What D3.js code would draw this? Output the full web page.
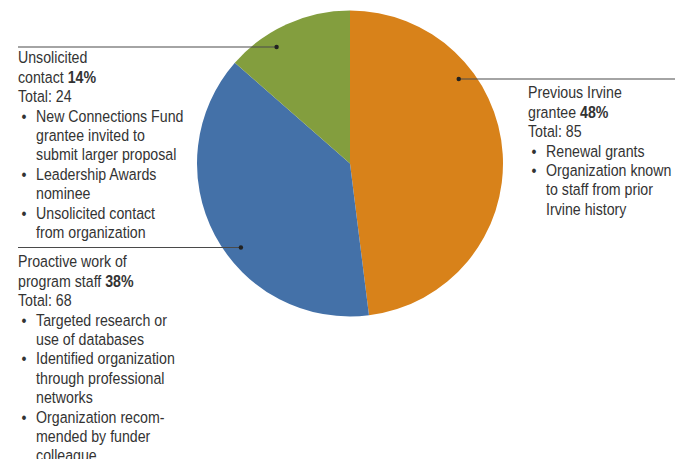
<!DOCTYPE html>
<html>
<head>
<meta charset="utf-8">
<script src="https://cdn.jsdelivr.net/npm/d3@7"></script>
<style>
  body { margin: 0; background: #fff; }
  svg text { font-family: "Liberation Sans", Arial, sans-serif; font-size: 16.5px; fill: #333; }
</style>
</head>
<body>
<svg id="chart" width="675" height="459"></svg>
<script>
"use strict";

// data
var categories = ["Previous Irvine grantee", "Proactive work of program staff", "Unsolicited contact"];
var totals = [85, 68, 24];
var percents = ["48%", "38%", "14%"];
var titleLines = [
  ["Previous Irvine", "grantee"],
  ["Proactive work of", "program staff"],
  ["Unsolicited", "contact"]
];
var bullets = [
  [["Renewal grants"], ["Organization known", "to staff from prior", "Irvine history"]],
  [["Targeted research or", "use of databases"], ["Identified organization", "through professional", "networks"],
   ["Organization recom-", "mended by funder", "colleague"]],
  [["New Connections Fund", "grantee invited to", "submit larger proposal"], ["Leadership Awards", "nominee"],
   ["Unsolicited contact", "from organization"]]
];
var colors = ["#d8821a", "#4471a8", "#839e3e"];

var svg = d3.select('#chart');
var cx = 350, cy = 163.5, radius = 153;
var lineH = 19.4;
var squeeze = 0.86; // the source face is a condensed gothic

// where each callout sits (line y, text anchor point)
var labelLayout = [
  {lineY: 79, side: 'right', lineEnd: 675, textX: 528, textY: 98.5},
  {lineY: 247.5, side: 'left', lineEnd: 18, textX: 18, textY: 267.5},
  {lineY: 47, side: 'left', lineEnd: 18, textX: 18, textY: 63.5}
];

var pie = d3.pie().sort(null).value(function(d) { return d; });
var arc = d3.arc().innerRadius(0).outerRadius(radius);
var arcs = pie(totals);

var gPie = svg.append("g").attr("transform", "translate(" + cx + "," + cy + ")");
gPie.selectAll("path.slice")
  .data(arcs)
  .enter()
  .append("path")
  .classed('slice', true)
  .attr("d", arc)
  .attr("fill", function(d, i) { return colors[i]; });

// leader lines, dot sits on a circle at 0.9 radius
var dotR = radius * 0.9;
arcs.forEach(function(a, i) {
  var l = labelLayout[i];
  var dy = l.lineY - cy;
  var dx = Math.sqrt(dotR * dotR - dy * dy);
  var dotX = l.side === 'right' ? cx + dx : cx - dx;
  svg.append("line")
    .attr("x1", dotX).attr("y1", l.lineY)
    .attr("x2", l.lineEnd).attr("y2", l.lineY)
    .attr("stroke", "#4a4a4a")
    .attr("stroke-width", 1.2);
  svg.append("circle")
    .attr("cx", dotX).attr("cy", l.lineY)
    .attr("r", 2.2)
    .attr("fill", "#222");
});

// label blocks
categories.forEach(function(cat, i) {
  var l = labelLayout[i];
  var g = svg.append("g")
    .attr("transform", "translate(" + l.textX + ",0) scale(" + squeeze + ",1)");
  var y = l.textY;
  var t = titleLines[i];
  g.append("text").attr("x", 0).attr("y", y).text(t[0]);
  y += lineH;
  var t2 = g.append("text").attr("x", 0).attr("y", y);
  t2.append("tspan").text(t[1] + " ");
  t2.append("tspan").attr("font-weight", "bold").text(percents[i]);
  y += lineH;
  g.append("text").attr("x", 0).attr("y", y).text("Total: " + totals[i]);
  bullets[i].forEach(function(b) {
    y += lineH;
    g.append("text").attr("x", 4).attr("y", y).text("\u2022");
    b.forEach(function(line, j) {
      if (j > 0) y += lineH;
      g.append("text").attr("x", 21).attr("y", y).text(line);
    });
  });
});
</script>
</body>
</html>
